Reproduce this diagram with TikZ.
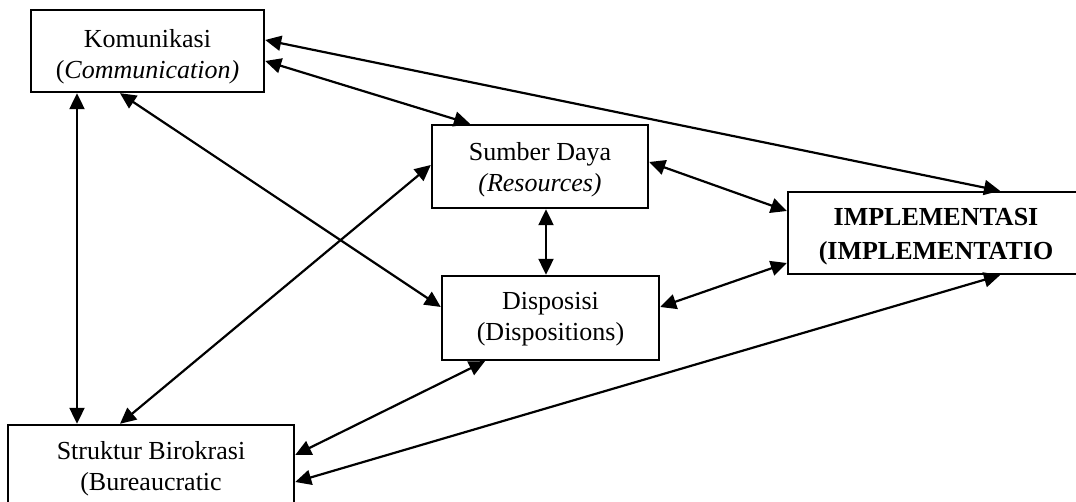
\documentclass[tikz,border=0pt]{standalone}
\usepackage{fontspec}
\setmainfont{Liberation Serif}
\usetikzlibrary{arrows.meta}

\tikzset{
  box/.style={draw=black, line width=2.4pt, fill=none, inner sep=0pt},
  lbl/.style={align=center, inner sep=0pt, font=\fontsize{26}{31}\selectfont},
  biglbl/.style={align=center, inner sep=0pt, font=\fontsize{26}{34}\selectfont\bfseries},
  link/.style={line width=2.2pt, {Triangle[length=16pt,width=15pt]}-{Triangle[length=16pt,width=15pt]}}
}

\begin{document}
\begin{tikzpicture}[x=1pt,y=1pt]
\useasboundingbox (0,0) rectangle (1076,502);
\clip (0,0) rectangle (1076,502);
\fill[white] (0,0) rectangle (1076,502);

% boxes
\node[box, minimum width=233pt, minimum height=82pt] (kom) at (147.5,451) {};
\node[box, minimum width=216pt, minimum height=83pt] (sum) at (540,335.5) {};
\node[box, minimum width=217pt, minimum height=84pt] (dis) at (550.5,184) {};
\node[box, minimum width=296pt, minimum height=82pt] (imp) at (936,269) {};
\node[box, minimum width=286pt, minimum height=120pt] (str) at (151,17) {};

% box texts
\node[lbl] (komt) at (147.5,445.6) {Komunikasi\\(\textit{Communication)}};
\node[lbl] (sumt) at (540,332.6) {Sumber Daya\\\textit{(Resources)}};
\node[lbl] (dist) at (550.5,182.6) {Disposisi\\(Dispositions)};
\node[biglbl] (impt) at (936,265.8) {IMPLEMENTASI\\(IMPLEMENTATIO};
\node[lbl] (strt) at (151,33.1) {Struktur Birokrasi\\(Bureaucratic};

% relations
\draw[link] ([yshift=11pt]kom.east) -- ([xshift=64pt]imp.north);
\draw[link] ([yshift=-10pt]kom.east) -- ([xshift=-70pt]sum.north);
\draw[link] ([xshift=-27.5pt]kom.south) -- ([yshift=11pt]dis.west);
\draw[link] ([xshift=-70.5pt]kom.south) -- ([xshift=-74pt]str.north);
\draw[link] ([yshift=1.5pt]sum.west) -- ([xshift=-31pt]str.north);
\draw[link] ([xshift=6pt]sum.south) -- ([xshift=-4.5pt]dis.north);
\draw[link] ([yshift=4.5pt]sum.east) -- ([yshift=22pt]imp.west);
\draw[link] ([yshift=11pt]dis.east) -- ([yshift=-30pt]imp.west);
\draw[link] ([xshift=-65.5pt]dis.south) -- ([yshift=30pt]str.east);
\draw[link] ([yshift=3pt]str.east) -- ([xshift=64pt]imp.south);
\end{tikzpicture}
\end{document}
